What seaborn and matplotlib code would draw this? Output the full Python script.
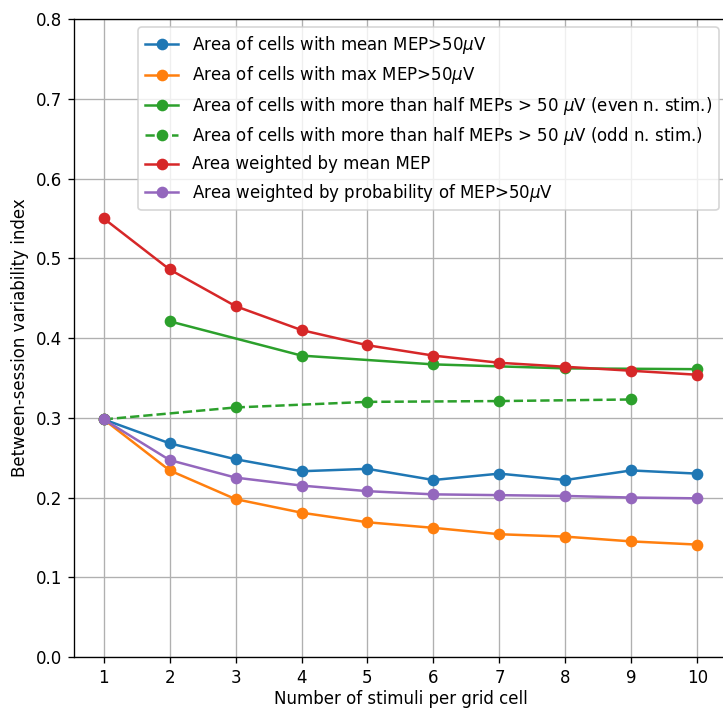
import matplotlib
matplotlib.use("Agg")
import matplotlib.pyplot as plt
import seaborn as sns
import numpy as np

# Number of stimuli per grid cell
n_stim = [1, 2, 3, 4, 5, 6, 7, 8, 9, 10]
n_even = [2, 4, 6, 8, 10]
n_odd = [1, 3, 5, 7, 9]

# Between-session variability index for each area definition
mean_mep_area = [0.298, 0.268, 0.248, 0.233, 0.236, 0.222, 0.230, 0.222, 0.234, 0.230]
max_mep_area = [0.298, 0.234, 0.198, 0.181, 0.169, 0.162, 0.154, 0.151, 0.145, 0.141]
half_mep_even = [0.421, 0.378, 0.367, 0.362, 0.361]
half_mep_odd = [0.298, 0.313, 0.320, 0.321, 0.323]
weighted_mean = [0.550, 0.486, 0.440, 0.410, 0.391, 0.378, 0.369, 0.364, 0.359, 0.354]
weighted_prob = [0.298, 0.247, 0.225, 0.215, 0.208, 0.204, 0.203, 0.202, 0.200, 0.199]

labels = [
    r"Area of cells with mean MEP>50$\mu$V",
    r"Area of cells with max MEP>50$\mu$V",
    r"Area of cells with more than half MEPs > 50 $\mu$V (even n. stim.)",
    r"Area of cells with more than half MEPs > 50 $\mu$V (odd n. stim.)",
    r"Area weighted by mean MEP",
    r"Area weighted by probability of MEP>50$\mu$V",
]

colors = ["#1f77b4", "#ff7f0e", "#2ca02c", "#2ca02c", "#d62728", "#9467bd"]

series = [
    (n_stim, mean_mep_area, "-"),
    (n_stim, max_mep_area, "-"),
    (n_even, half_mep_even, "-"),
    (n_odd, half_mep_odd, "--"),
    (n_stim, weighted_mean, "-"),
    (n_stim, weighted_prob, "-"),
]

DPI = 120
fig = plt.figure(figsize=(723 / DPI, 708 / DPI), dpi=DPI)
ax = fig.add_axes([0.1024, 0.072, 0.903, 0.901])

for (xs, ys, ls), lab, col in zip(series, labels, colors):
    sns.lineplot(x=xs, y=ys, ax=ax, color=col, marker="o", markersize=6,
                 markeredgecolor=col, markeredgewidth=1.0, linestyle=ls,
                 linewidth=1.5, label=lab)

ax.set_xlim(0.55, 10.45)
ax.set_ylim(0.0, 0.8)
ax.set_xticks(n_stim)
ax.set_yticks(np.arange(0.0, 0.81, 0.1))
ax.set_yticklabels([f"{v:.1f}" for v in np.arange(0.0, 0.81, 0.1)])
ax.grid(True, color="#b0b0b0", linewidth=0.8)
ax.set_axisbelow(True)
ax.set_xlabel("Number of stimuli per grid cell", fontsize=10, labelpad=2)
ax.set_ylabel("Between-session variability index", fontsize=10)
ax.legend(loc="upper right", fontsize=10)

fig.savefig("out.png", dpi=DPI)
